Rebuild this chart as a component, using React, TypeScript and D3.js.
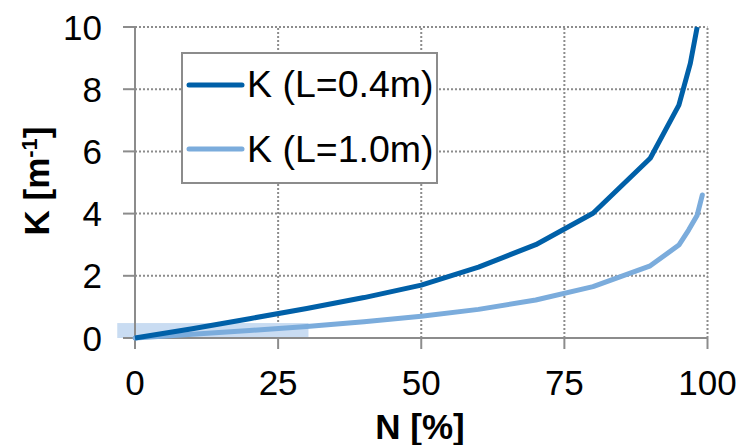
import React from "react";
import * as d3 from "d3";

const nDark = [0, 10, 20, 30, 40, 50, 60, 70, 80, 90, 95, 97, 98.2];
const kDark = [0, 0.3, 0.62, 0.95, 1.3, 1.7, 2.28, 3.0, 4.01, 5.78, 7.49, 8.83, 10];
const nLight = [0, 10, 20, 30, 40, 50, 60, 70, 80, 90, 95, 96.7, 98.2, 99.1];
const kLight = [0, 0.12, 0.24, 0.37, 0.52, 0.7, 0.92, 1.22, 1.65, 2.32, 2.99, 3.47, 3.95, 4.6];
const xTicks = [0, 25, 50, 75, 100];
const yTicks = [0, 2, 4, 6, 8, 10];
const seriesNames = ["K (L=0.4m)", "K (L=1.0m)"];
const colors = ["#0060a8", "#7bacdc"];
const highlightX = [-3.1, 30.3];
const highlightY = [0, 0.48];

export default function App() {
  const W = 743, H = 445;
  const x = d3.scaleLinear().domain([0, 100]).range([135, 707.5]);
  const y = d3.scaleLinear().domain([0, 10]).range([338, 27]);
  const line = d3.line<[number, number]>().x(d => x(d[0])).y(d => y(d[1]));
  const dark: [number, number][] = nDark.map((n, i) => [n, kDark[i]]);
  const light: [number, number][] = nLight.map((n, i) => [n, kLight[i]]);
  const font = "'Liberation Sans', Arial, sans-serif";
  const grid = "#8c8c8c";
  return (
    <svg width={W} height={H} style={{ position: "absolute", left: 0, top: 0 }} fontFamily={font}>
      <rect x={0} y={0} width={W} height={H} fill="#fff" />
      {/* grid */}
      {yTicks.filter(t => t > 0).map(t => (
        <line key={"gy" + t} x1={x(0)} x2={x(100)} y1={y(t)} y2={y(t)} stroke={grid} strokeWidth={2} strokeDasharray="2,2" />
      ))}
      {xTicks.filter(t => t > 0).map(t => (
        <line key={"gx" + t} x1={x(t)} x2={x(t)} y1={y(0)} y2={y(10)} stroke={grid} strokeWidth={2} strokeDasharray="2,2" />
      ))}
      {/* highlight rect */}
      <rect x={x(highlightX[0])} y={y(highlightY[1])} width={x(highlightX[1]) - x(highlightX[0])} height={y(highlightY[0]) - y(highlightY[1])} fill="#c9dcf2" />
      {/* axes */}
      <line x1={x(0)} x2={x(0)} y1={y(10)} y2={y(0)} stroke={grid} strokeWidth={2} />
      <line x1={x(0) - 12} x2={x(100)} y1={y(0)} y2={y(0)} stroke={grid} strokeWidth={2} />
      {yTicks.map(t => (
        <g key={"yt" + t}>
          <line x1={x(0) - 12} x2={x(0)} y1={y(t)} y2={y(t)} stroke={grid} strokeWidth={2} />
          <text x={102} y={y(t) + 12.5} textAnchor="end" fontSize={35} fill="#000">{t}</text>
        </g>
      ))}
      {xTicks.map(t => (
        <g key={"xt" + t}>
          <line x1={x(t)} x2={x(t)} y1={y(0)} y2={y(0) + 11} stroke={grid} strokeWidth={2} />
          <text x={x(t)} y={395} textAnchor="middle" fontSize={35} fill="#000">{t}</text>
        </g>
      ))}
      {/* lines */}
      <path d={line(light) || ""} fill="none" stroke={colors[1]} strokeWidth={5} strokeLinecap="round" strokeLinejoin="round" />
      <path d={line(dark) || ""} fill="none" stroke={colors[0]} strokeWidth={5} strokeLinejoin="round" />
      {/* axis titles */}
      <text x={420} y={439} textAnchor="middle" fontSize={35} fontWeight="bold" fill="#000">N [%]</text>
      <text transform="translate(49,181) rotate(-90)" textAnchor="middle" fontSize={35} fontWeight="bold" fill="#000">
        K [m<tspan dy={-12} fontSize={22}>-1</tspan><tspan dy={12}>]</tspan>
      </text>
      {/* legend */}
      <rect x={182} y={53} width={255} height={130} fill="#fff" stroke={grid} strokeWidth={2} />
      {seriesNames.map((s, i) => (
        <g key={s}>
          <line x1={189} x2={242} y1={85 + i * 64} y2={85 + i * 64} stroke={colors[i]} strokeWidth={5} strokeLinecap="round" />
          <text x={247} y={97 + i * 64.5} fontSize={37.5} fill="#000">{s}</text>
        </g>
      ))}
    </svg>
  );
}
